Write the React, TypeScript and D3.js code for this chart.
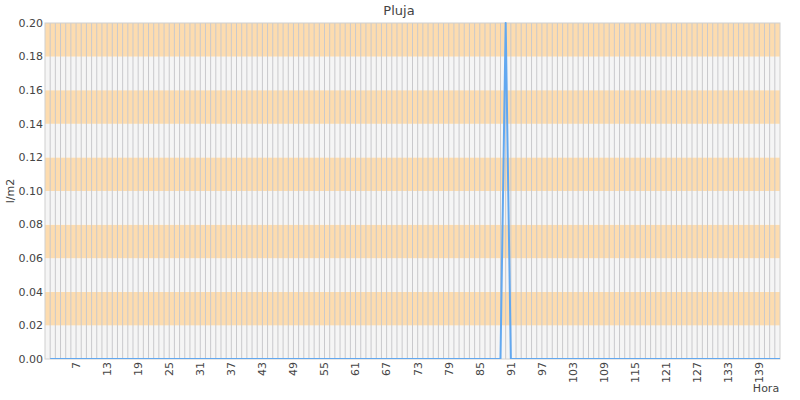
import React from "react";
import * as d3 from "d3";

const hours: number[] = Array.from({ length: 143 }, (_, i) => i + 1);
const spikeHour = 90;
const spikeValue = 0.2;
const rainValues: (number | null)[] = hours.map((h) =>
  h === 1 ? null : h === spikeHour ? spikeValue : 0
);
const yTicks: number[] = [0, 0.02, 0.04, 0.06, 0.08, 0.1, 0.12, 0.14, 0.16, 0.18, 0.2];
const xLabelHours: number[] = hours.filter((h) => h >= 7 && (h - 7) % 6 === 0);

const W = 800;
const H = 400;
const M = { left: 45, right: 20, top: 23, bottom: 41 };
const FONT = "DejaVu Sans, sans-serif";

export default function App() {
  const x = d3.scaleLinear().domain([1, 143]).range([M.left, W - M.right]);
  const y = d3.scaleLinear().domain([0, 0.2]).range([H - M.bottom, M.top]);
  const line = d3
    .line<number | null>()
    .defined((d) => d !== null)
    .x((_, i) => x(hours[i]))
    .y((d) => y(d as number));

  const bands = yTicks.slice(0, -1).map((t, i) => ({ lo: t, hi: yTicks[i + 1], odd: i % 2 === 1 }));
  const pw = x(143) - M.left;
  const ph = y(0) - y(0.2);

  return (
    <svg
      width={W}
      height={H}
      style={{ position: "absolute", left: 0, top: 0, fontFamily: FONT }}
    >
      <defs>
        <clipPath id="plotclip">
          <rect x={M.left} y={y(0.2) - 1} width={pw} height={ph + 1} />
        </clipPath>
      </defs>
      <rect x={0} y={0} width={W} height={H} fill="#fff" />
      {bands.map((b, i) => (
        <rect
          key={i}
          x={M.left}
          y={y(b.hi)}
          width={pw}
          height={y(b.lo) - y(b.hi)}
          fill={b.odd ? "#fddcaf" : "#f5f5f5"}
        />
      ))}
      {hours.slice(1, -1).map((h) => (
        <line
          key={h}
          x1={x(h)}
          x2={x(h)}
          y1={y(0.2)}
          y2={y(0)}
          stroke="#c9c9cc"
          strokeWidth={1}
        />
      ))}
      <rect
        x={M.left}
        y={y(0.2)}
        width={pw}
        height={ph}
        fill="none"
        stroke="#d0d0d0"
        strokeWidth={1}
      />
      <path
        d={line(rainValues) || ""}
        fill="none"
        stroke="#62a8f0"
        strokeWidth={2}
        strokeLinejoin="round"
        clipPath="url(#plotclip)"
      />
      {yTicks.map((t) => (
        <text
          key={t}
          x={M.left - 2}
          y={y(t)}
          dy="0.35em"
          textAnchor="end"
          fontSize={11}
          fill="#444"
        >
          {t.toFixed(2)}
        </text>
      ))}
      {xLabelHours.map((h) => (
        <text
          key={h}
          transform={`translate(${x(h)},${H - M.bottom + 3}) rotate(-90)`}
          dy="0.35em"
          textAnchor="end"
          fontSize={11}
          fill="#444"
        >
          {h}
        </text>
      ))}
      <text x={399} y={15} textAnchor="middle" fontSize={13} fill="#444">
        Pluja
      </text>
      <text
        transform={`translate(14,${(M.top + H - M.bottom) / 2}) rotate(-90)`}
        textAnchor="middle"
        fontSize={11}
        fill="#444"
      >
        l/m2
      </text>
      <text x={766} y={392} textAnchor="middle" fontSize={11} fill="#444">
        Hora
      </text>
    </svg>
  );
}
